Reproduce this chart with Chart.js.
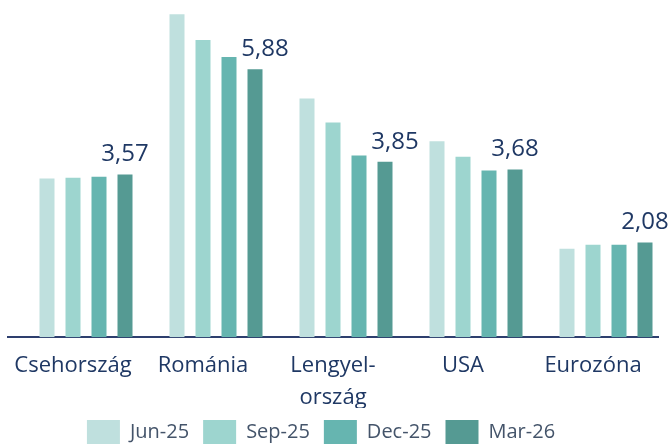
<!DOCTYPE html>
<html>
<head>
<meta charset="utf-8">
<script src="https://cdn.jsdelivr.net/npm/chart.js@4.4.1/dist/chart.umd.min.js"></script>
<style>
  html, body { margin: 0; padding: 0; background: #fff; }
  #wrap { width: 672px; height: 444px; position: relative; }
</style>
</head>
<body>
<div id="wrap"><canvas id="chart"></canvas></div>
<script>
// kategórie a sorozatok
const categories = ['Csehország', 'Románia', ['Lengyel-', 'ország'], 'USA', 'Eurozóna'];
const seriesNames = ['Jun-25', 'Sep-25', 'Dec-25', 'Mar-26'];
const jun25 = [3.48, 7.09, 5.24, 4.30, 1.94];
const sep25 = [3.50, 6.52, 4.71, 3.96, 2.03];
const dec25 = [3.52, 6.15, 3.99, 3.66, 2.03];
const mar26 = [3.57, 5.88, 3.85, 3.68, 2.08];
const seriesColors = ['#bfe0de', '#9dd5cf', '#66b5b0', '#559a93'];

// kézzel eltolt címkék (px), mint az eredetiben
const labelShiftX = [0, 10, 10, 0, 0];

const navy = '#1f3864';
const FONT = "'Open Sans', sans-serif";

// csak az utolsó sorozat kap értékcímkét
const valueLabels = {
    id: 'valueLabels',
    afterLayout(chart) {
        // a jelmagyarázat kicsit balra tolva
        const lg = chart.legend;
        lg.left -= 12; lg.right -= 12;
        lg.top -= 2; lg.bottom -= 2;
    },
    afterDatasetsDraw(chart) {
        const ctx = chart.ctx;
        const idx = chart.data.datasets.length - 1;
        const meta = chart.getDatasetMeta(idx);
        ctx.save();
        ctx.font = `24px ${FONT}`;
        ctx.fillStyle = navy;
        ctx.textAlign = 'center';
        ctx.textBaseline = 'middle';
        meta.data.forEach((bar, i) => {
            const v = chart.data.datasets[idx].data[i];
            ctx.fillText(v.toFixed(2).replace('.', ','), bar.x + labelShiftX[i], bar.y - 20);
        });
        ctx.restore();
    }
};

const ctx = document.getElementById('chart').getContext('2d');
new Chart(ctx, {
    type: 'bar',
    data: {
        labels: categories,
        datasets: [
            // üres sorozat (Excelben is van egy láthatatlan első oszlop)
            { label: '', data: categories.map(() => null), backgroundColor: 'rgba(0,0,0,0)' },
            ...[jun25, sep25, dec25, mar26].map((d, i) => ({
                label: seriesNames[i],
                data: d,
                backgroundColor: seriesColors[i],
                borderWidth: 0
            }))
        ]
    },
    options: {
        responsive: true,
        maintainAspectRatio: false,
        animation: false,
        categoryPercentage: 1.0,
        barPercentage: 0.577,
        layout: { padding: { top: 0, left: 8, right: 14, bottom: -13 } },
        plugins: {
            legend: {
                position: 'bottom',
                labels: {
                    filter: item => item.text !== '',
                    color: '#44546a',
                    font: { family: FONT, size: 20 },
                    boxWidth: 33,
                    boxHeight: 25,
                    padding: 14
                }
            },
            tooltip: { enabled: false }
        },
        scales: {
            x: {
                grid: { display: false, drawTicks: false },
                border: { display: true, color: '#2e3f6e', width: 2 },
                ticks: {
                    color: navy,
                    font: { family: FONT, size: 22, lineHeight: 1.45 },
                    padding: 13,
                    maxRotation: 0,
                    autoSkip: false
                },
                afterFit: s => { s.height -= 19; }
            },
            y: {
                display: false,
                min: 0,
                max: 7.4
            }
        }
    },
    plugins: [valueLabels]
});
</script>
</body>
</html>
